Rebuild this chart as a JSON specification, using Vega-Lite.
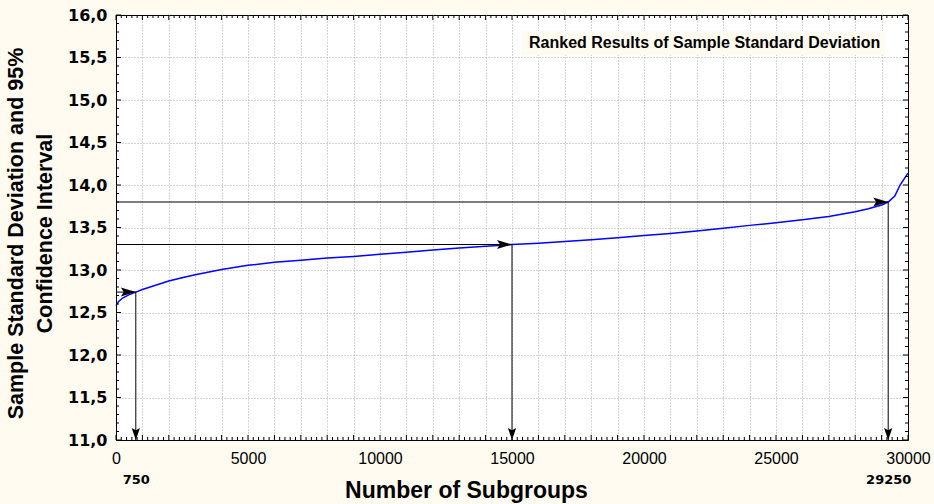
{
  "$schema": "https://vega.github.io/schema/vega-lite/v6.json",
  "width": 792,
  "height": 425,
  "autosize": {"type": "none"},
  "padding": {"left": 116, "top": 15, "right": 26, "bottom": 64},
  "background": "#fffbf0",
  "config": {
    "view": {"fill": "white", "stroke": "black", "strokeWidth": 1},
    "axis": {"domain": false, "labelColor": "black", "titleColor": "black"}
  },
  "datasets": {
    "curve": [
      {"n": 0, "sd": 12.58}, {"n": 100, "sd": 12.63}, {"n": 250, "sd": 12.67}, {"n": 500, "sd": 12.71},
      {"n": 750, "sd": 12.74}, {"n": 1000, "sd": 12.77}, {"n": 1500, "sd": 12.82}, {"n": 2000, "sd": 12.87},
      {"n": 2500, "sd": 12.91}, {"n": 3000, "sd": 12.945}, {"n": 4000, "sd": 13.005}, {"n": 5000, "sd": 13.055},
      {"n": 6000, "sd": 13.09}, {"n": 7000, "sd": 13.115}, {"n": 8000, "sd": 13.14}, {"n": 9000, "sd": 13.16},
      {"n": 10000, "sd": 13.185}, {"n": 11000, "sd": 13.21}, {"n": 12000, "sd": 13.235}, {"n": 13000, "sd": 13.26},
      {"n": 14000, "sd": 13.28}, {"n": 15000, "sd": 13.30}, {"n": 16000, "sd": 13.315}, {"n": 17000, "sd": 13.335},
      {"n": 18000, "sd": 13.355}, {"n": 19000, "sd": 13.38}, {"n": 20000, "sd": 13.405}, {"n": 21000, "sd": 13.43},
      {"n": 22000, "sd": 13.46}, {"n": 23000, "sd": 13.49}, {"n": 24000, "sd": 13.525}, {"n": 25000, "sd": 13.555},
      {"n": 26000, "sd": 13.59}, {"n": 27000, "sd": 13.63}, {"n": 28000, "sd": 13.685}, {"n": 28500, "sd": 13.72},
      {"n": 29000, "sd": 13.765}, {"n": 29250, "sd": 13.80}, {"n": 29500, "sd": 13.87}, {"n": 29700, "sd": 14.0},
      {"n": 29850, "sd": 14.07}, {"n": 30000, "sd": 14.14}
    ],
    "arrows": [
      {"n": 750, "sd": 12.74},
      {"n": 15000, "sd": 13.30},
      {"n": 29250, "sd": 13.80}
    ],
    "xticks": [
      {"v": 0, "k": "major"}, {"v": 200, "k": "minor"}, {"v": 400, "k": "minor"}, {"v": 600, "k": "minor"}, {"v": 800, "k": "minor"},
      {"v": 1000, "k": "major"}, {"v": 1200, "k": "minor"}, {"v": 1400, "k": "minor"}, {"v": 1600, "k": "minor"}, {"v": 1800, "k": "minor"},
      {"v": 2000, "k": "major"}, {"v": 2200, "k": "minor"}, {"v": 2400, "k": "minor"}, {"v": 2600, "k": "minor"}, {"v": 2800, "k": "minor"},
      {"v": 3000, "k": "major"}, {"v": 3200, "k": "minor"}, {"v": 3400, "k": "minor"}, {"v": 3600, "k": "minor"}, {"v": 3800, "k": "minor"},
      {"v": 4000, "k": "major"}, {"v": 4200, "k": "minor"}, {"v": 4400, "k": "minor"}, {"v": 4600, "k": "minor"}, {"v": 4800, "k": "minor"},
      {"v": 5000, "k": "major"}, {"v": 5200, "k": "minor"}, {"v": 5400, "k": "minor"}, {"v": 5600, "k": "minor"}, {"v": 5800, "k": "minor"},
      {"v": 6000, "k": "major"}, {"v": 6200, "k": "minor"}, {"v": 6400, "k": "minor"}, {"v": 6600, "k": "minor"}, {"v": 6800, "k": "minor"},
      {"v": 7000, "k": "major"}, {"v": 7200, "k": "minor"}, {"v": 7400, "k": "minor"}, {"v": 7600, "k": "minor"}, {"v": 7800, "k": "minor"},
      {"v": 8000, "k": "major"}, {"v": 8200, "k": "minor"}, {"v": 8400, "k": "minor"}, {"v": 8600, "k": "minor"}, {"v": 8800, "k": "minor"},
      {"v": 9000, "k": "major"}, {"v": 9200, "k": "minor"}, {"v": 9400, "k": "minor"}, {"v": 9600, "k": "minor"}, {"v": 9800, "k": "minor"},
      {"v": 10000, "k": "major"}, {"v": 10200, "k": "minor"}, {"v": 10400, "k": "minor"}, {"v": 10600, "k": "minor"}, {"v": 10800, "k": "minor"},
      {"v": 11000, "k": "major"}, {"v": 11200, "k": "minor"}, {"v": 11400, "k": "minor"}, {"v": 11600, "k": "minor"}, {"v": 11800, "k": "minor"},
      {"v": 12000, "k": "major"}, {"v": 12200, "k": "minor"}, {"v": 12400, "k": "minor"}, {"v": 12600, "k": "minor"}, {"v": 12800, "k": "minor"},
      {"v": 13000, "k": "major"}, {"v": 13200, "k": "minor"}, {"v": 13400, "k": "minor"}, {"v": 13600, "k": "minor"}, {"v": 13800, "k": "minor"},
      {"v": 14000, "k": "major"}, {"v": 14200, "k": "minor"}, {"v": 14400, "k": "minor"}, {"v": 14600, "k": "minor"}, {"v": 14800, "k": "minor"},
      {"v": 15000, "k": "major"}, {"v": 15200, "k": "minor"}, {"v": 15400, "k": "minor"}, {"v": 15600, "k": "minor"}, {"v": 15800, "k": "minor"},
      {"v": 16000, "k": "major"}, {"v": 16200, "k": "minor"}, {"v": 16400, "k": "minor"}, {"v": 16600, "k": "minor"}, {"v": 16800, "k": "minor"},
      {"v": 17000, "k": "major"}, {"v": 17200, "k": "minor"}, {"v": 17400, "k": "minor"}, {"v": 17600, "k": "minor"}, {"v": 17800, "k": "minor"},
      {"v": 18000, "k": "major"}, {"v": 18200, "k": "minor"}, {"v": 18400, "k": "minor"}, {"v": 18600, "k": "minor"}, {"v": 18800, "k": "minor"},
      {"v": 19000, "k": "major"}, {"v": 19200, "k": "minor"}, {"v": 19400, "k": "minor"}, {"v": 19600, "k": "minor"}, {"v": 19800, "k": "minor"},
      {"v": 20000, "k": "major"}, {"v": 20200, "k": "minor"}, {"v": 20400, "k": "minor"}, {"v": 20600, "k": "minor"}, {"v": 20800, "k": "minor"},
      {"v": 21000, "k": "major"}, {"v": 21200, "k": "minor"}, {"v": 21400, "k": "minor"}, {"v": 21600, "k": "minor"}, {"v": 21800, "k": "minor"},
      {"v": 22000, "k": "major"}, {"v": 22200, "k": "minor"}, {"v": 22400, "k": "minor"}, {"v": 22600, "k": "minor"}, {"v": 22800, "k": "minor"},
      {"v": 23000, "k": "major"}, {"v": 23200, "k": "minor"}, {"v": 23400, "k": "minor"}, {"v": 23600, "k": "minor"}, {"v": 23800, "k": "minor"},
      {"v": 24000, "k": "major"}, {"v": 24200, "k": "minor"}, {"v": 24400, "k": "minor"}, {"v": 24600, "k": "minor"}, {"v": 24800, "k": "minor"},
      {"v": 25000, "k": "major"}, {"v": 25200, "k": "minor"}, {"v": 25400, "k": "minor"}, {"v": 25600, "k": "minor"}, {"v": 25800, "k": "minor"},
      {"v": 26000, "k": "major"}, {"v": 26200, "k": "minor"}, {"v": 26400, "k": "minor"}, {"v": 26600, "k": "minor"}, {"v": 26800, "k": "minor"},
      {"v": 27000, "k": "major"}, {"v": 27200, "k": "minor"}, {"v": 27400, "k": "minor"}, {"v": 27600, "k": "minor"}, {"v": 27800, "k": "minor"},
      {"v": 28000, "k": "major"}, {"v": 28200, "k": "minor"}, {"v": 28400, "k": "minor"}, {"v": 28600, "k": "minor"}, {"v": 28800, "k": "minor"},
      {"v": 29000, "k": "major"}, {"v": 29200, "k": "minor"}, {"v": 29400, "k": "minor"}, {"v": 29600, "k": "minor"}, {"v": 29800, "k": "minor"},
      {"v": 30000, "k": "major"}
    ],
    "yticks": [
      {"v": 11.0, "k": "major"}, {"v": 11.1, "k": "minor"}, {"v": 11.2, "k": "minor"}, {"v": 11.3, "k": "minor"}, {"v": 11.4, "k": "minor"},
      {"v": 11.5, "k": "major"}, {"v": 11.6, "k": "minor"}, {"v": 11.7, "k": "minor"}, {"v": 11.8, "k": "minor"}, {"v": 11.9, "k": "minor"},
      {"v": 12.0, "k": "major"}, {"v": 12.1, "k": "minor"}, {"v": 12.2, "k": "minor"}, {"v": 12.3, "k": "minor"}, {"v": 12.4, "k": "minor"},
      {"v": 12.5, "k": "major"}, {"v": 12.6, "k": "minor"}, {"v": 12.7, "k": "minor"}, {"v": 12.8, "k": "minor"}, {"v": 12.9, "k": "minor"},
      {"v": 13.0, "k": "major"}, {"v": 13.1, "k": "minor"}, {"v": 13.2, "k": "minor"}, {"v": 13.3, "k": "minor"}, {"v": 13.4, "k": "minor"},
      {"v": 13.5, "k": "major"}, {"v": 13.6, "k": "minor"}, {"v": 13.7, "k": "minor"}, {"v": 13.8, "k": "minor"}, {"v": 13.9, "k": "minor"},
      {"v": 14.0, "k": "major"}, {"v": 14.1, "k": "minor"}, {"v": 14.2, "k": "minor"}, {"v": 14.3, "k": "minor"}, {"v": 14.4, "k": "minor"},
      {"v": 14.5, "k": "major"}, {"v": 14.6, "k": "minor"}, {"v": 14.7, "k": "minor"}, {"v": 14.8, "k": "minor"}, {"v": 14.9, "k": "minor"},
      {"v": 15.0, "k": "major"}, {"v": 15.1, "k": "minor"}, {"v": 15.2, "k": "minor"}, {"v": 15.3, "k": "minor"}, {"v": 15.4, "k": "minor"},
      {"v": 15.5, "k": "major"}, {"v": 15.6, "k": "minor"}, {"v": 15.7, "k": "minor"}, {"v": 15.8, "k": "minor"}, {"v": 15.9, "k": "minor"},
      {"v": 16.0, "k": "major"}
    ]
  },
  "layer": [
    {
      "data": {"name": "curve"},
      "mark": {"type": "line", "strokeWidth": 1.5},
      "encoding": {
        "x": {
          "field": "n", "type": "quantitative",
          "scale": {"domain": [0, 30000], "nice": false, "zero": false},
          "axis": {
            "orient": "bottom", "tickCount": 30, "ticks": false,
            "labelExpr": "datum.value % 5000 === 0 ? format(datum.value, 'd') : ''",
            "labelFont": "Liberation Sans", "labelFontSize": 16, "labelPadding": 10,
            "labelOverlap": false, "labelFlush": false, "labelBound": false,
            "grid": true, "gridColor": "#a8a8a8", "gridDash": [1, 2], "gridWidth": 1,
            "gridOpacity": {"condition": {"test": "datum.value > 0 && datum.value < 30000", "value": 1}, "value": 0},
            "title": "Number of Subgroups", "titleFont": "Liberation Sans", "titleFontSize": 23,
            "titleFontWeight": "bold", "titleX": 350, "titleY": 57, "titleAlign": "center", "titleBaseline": "alphabetic"
          }
        },
        "y": {
          "field": "sd", "type": "quantitative",
          "scale": {"domain": [11, 16], "nice": false, "zero": false},
          "axis": {
            "orient": "left", "tickCount": 10, "ticks": false,
            "labelExpr": "replace(format(datum.value, '.1f'), '.', ',')",
            "labelFont": "DejaVu Sans", "labelFontSize": 16, "labelFontWeight": "bold", "labelPadding": 9,
            "labelOverlap": false, "labelFlush": false, "labelBound": false,
            "grid": true, "gridColor": "#a8a8a8", "gridDash": [1, 2], "gridWidth": 1,
            "gridOpacity": {"condition": {"test": "datum.value > 11.01 && datum.value < 15.99", "value": 1}, "value": 0},
            "title": ["Sample Standard Deviation and 95%", "Confidence Interval"],
            "titleFont": "Liberation Sans", "titleFontSize": 21.5, "titleFontWeight": "bold",
            "titleLineHeight": 29, "titleAngle": -90, "titleX": -94, "titleY": 218,
            "titleAlign": "center", "titleBaseline": "alphabetic"
          }
        },
        "color": {
          "datum": "Ranked Results of Sample Standard Deviation", "type": "nominal",
          "scale": {"range": ["#0000ff"]},
          "legend": {
            "orient": "none", "legendX": 406, "legendY": 16, "title": null,
            "fillColor": "#fffbf0", "padding": 4, "symbolSize": 0, "symbolStrokeWidth": 0, "symbolOpacity": 0,
            "labelOffset": -13, "labelFont": "Liberation Sans", "labelFontSize": 16, "labelFontWeight": "bold",
            "labelColor": "black", "labelLimit": 500
          }
        }
      }
    },
    {
      "data": {"name": "arrows"},
      "mark": {"type": "rule", "color": "black", "strokeWidth": 1},
      "encoding": {
        "x": {"field": "n", "type": "quantitative", "axis": null},
        "y": {"field": "sd", "type": "quantitative", "axis": null},
        "y2": {"datum": 11}
      }
    },
    {
      "data": {"name": "arrows"},
      "mark": {"type": "rule", "color": "black", "strokeWidth": 1},
      "encoding": {
        "x": {"field": "n", "type": "quantitative", "axis": null},
        "x2": {"datum": 0},
        "y": {"field": "sd", "type": "quantitative", "axis": null}
      }
    },
    {
      "data": {"name": "arrows"},
      "mark": {"type": "point", "shape": "M0,0L-2,-0.6L-1.6,0L-2,0.6Z", "size": 225, "filled": true, "color": "black", "opacity": 1},
      "encoding": {
        "x": {
          "field": "n", "type": "quantitative",
          "axis": {
            "orient": "bottom", "values": [750, 29250], "ticks": false, "grid": false, "title": null,
            "format": "d", "labelFont": "DejaVu Sans", "labelFontWeight": "bold", "labelFontSize": 13,
            "labelPadding": 33, "labelFlush": false, "labelOverlap": false, "labelBound": false
          }
        },
        "y": {"field": "sd", "type": "quantitative", "axis": null}
      }
    },
    {
      "data": {"name": "arrows"},
      "mark": {"type": "point", "shape": "M0,0L-0.55,-1.6L0,-1.3L0.55,-1.6Z", "size": 225, "filled": true, "color": "black", "opacity": 1},
      "encoding": {
        "x": {"field": "n", "type": "quantitative", "axis": null},
        "y": {"datum": 11, "type": "quantitative", "axis": null}
      }
    },
    {
      "data": {"name": "xticks"},
      "transform": [{"filter": "datum.k === 'major'"}],
      "mark": {"type": "rule", "color": "black", "strokeWidth": 1},
      "encoding": {
        "x": {"field": "v", "type": "quantitative", "axis": null},
        "y": {"datum": 11, "type": "quantitative", "axis": null},
        "y2": {"datum": 11.06}
      }
    },
    {
      "data": {"name": "xticks"},
      "transform": [{"filter": "datum.k === 'minor'"}],
      "mark": {"type": "rule", "color": "black", "strokeWidth": 1},
      "encoding": {
        "x": {"field": "v", "type": "quantitative", "axis": null},
        "y": {"datum": 11, "type": "quantitative", "axis": null},
        "y2": {"datum": 11.036}
      }
    },
    {
      "data": {"name": "xticks"},
      "transform": [{"filter": "datum.k === 'major'"}],
      "mark": {"type": "rule", "color": "black", "strokeWidth": 1},
      "encoding": {
        "x": {"field": "v", "type": "quantitative", "axis": null},
        "y": {"datum": 16, "type": "quantitative", "axis": null},
        "y2": {"datum": 15.94}
      }
    },
    {
      "data": {"name": "xticks"},
      "transform": [{"filter": "datum.k === 'minor'"}],
      "mark": {"type": "rule", "color": "black", "strokeWidth": 1},
      "encoding": {
        "x": {"field": "v", "type": "quantitative", "axis": null},
        "y": {"datum": 16, "type": "quantitative", "axis": null},
        "y2": {"datum": 15.964}
      }
    },
    {
      "data": {"name": "yticks"},
      "transform": [{"filter": "datum.k === 'major'"}],
      "mark": {"type": "rule", "color": "black", "strokeWidth": 1},
      "encoding": {
        "y": {"field": "v", "type": "quantitative", "axis": null},
        "x": {"datum": 0, "type": "quantitative", "axis": null},
        "x2": {"datum": 190}
      }
    },
    {
      "data": {"name": "yticks"},
      "transform": [{"filter": "datum.k === 'minor'"}],
      "mark": {"type": "rule", "color": "black", "strokeWidth": 1},
      "encoding": {
        "y": {"field": "v", "type": "quantitative", "axis": null},
        "x": {"datum": 0, "type": "quantitative", "axis": null},
        "x2": {"datum": 114}
      }
    },
    {
      "data": {"name": "yticks"},
      "transform": [{"filter": "datum.k === 'major'"}],
      "mark": {"type": "rule", "color": "black", "strokeWidth": 1},
      "encoding": {
        "y": {"field": "v", "type": "quantitative", "axis": null},
        "x": {"datum": 30000, "type": "quantitative", "axis": null},
        "x2": {"datum": 29810}
      }
    },
    {
      "data": {"name": "yticks"},
      "transform": [{"filter": "datum.k === 'minor'"}],
      "mark": {"type": "rule", "color": "black", "strokeWidth": 1},
      "encoding": {
        "y": {"field": "v", "type": "quantitative", "axis": null},
        "x": {"datum": 30000, "type": "quantitative", "axis": null},
        "x2": {"datum": 29886}
      }
    }
  ],
  "resolve": {"axis": {"x": "independent", "y": "independent"}}
}
